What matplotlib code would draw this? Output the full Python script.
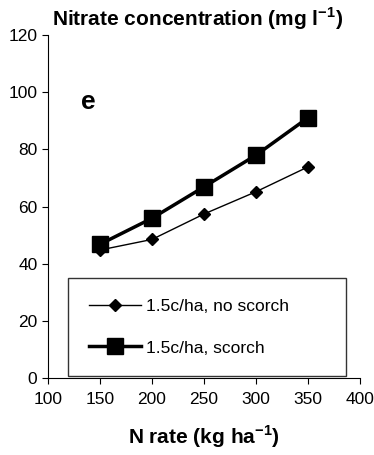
import numpy as np
import matplotlib
matplotlib.use("Agg")
import matplotlib.pyplot as plt

plt.rcParams['font.family'] = ['Liberation Sans', 'DejaVu Sans']
plt.rcParams['mathtext.fontset'] = 'custom'
plt.rcParams['mathtext.rm'] = 'Liberation Sans'
plt.rcParams['mathtext.bf'] = 'Liberation Sans:bold'

n_rate = [150, 200, 250, 300, 350]
no_scorch = [44.8, 48.5, 57.4, 65.2, 73.9]
scorch = [46.8, 55.9, 66.9, 78.0, 91.1]

fig = plt.figure(figsize=(3.74, 4.55), dpi=100)
ax = fig.add_axes([0.128, 0.169, 0.835, 0.754])

ax.plot(n_rate, no_scorch, color='black', lw=1, marker='D', ms=6,
        label='1.5c/ha, no scorch')
ax.plot(n_rate, scorch, color='black', lw=2.5, marker='s', ms=11,
        label='1.5c/ha, scorch')

ax.set_xlim(100, 400)
ax.set_ylim(0, 120)
ax.set_xticks(np.arange(100, 401, 50))
ax.set_yticks(np.arange(0, 121, 20))
ax.spines['top'].set_visible(False)
ax.spines['right'].set_visible(False)
ax.tick_params(labelsize=12.5, length=4, direction='out')
ax.tick_params(axis='x', pad=6)

ax.set_xlabel('N rate (kg ha$^{\\mathbf{-1}}$)', fontsize=15, fontweight='bold', labelpad=12)
fig.text(0.14, 0.988, 'Nitrate concentration (mg l$^{\\mathbf{-1}}$)', fontsize=15,
         fontweight='bold', ha='left', va='top')
ax.text(0.105, 0.785, 'e', transform=ax.transAxes, fontsize=19, fontweight='bold')

leg = ax.legend(loc='lower left', bbox_to_anchor=(0.064, 0.005, 0.89, 0.28),
                mode='expand', fontsize=12.5, frameon=True, fancybox=False,
                handlelength=3.0, borderpad=1.2, labelspacing=1.5,
                handletextpad=0.3, borderaxespad=0)
leg.get_frame().set_edgecolor('black')
leg.get_frame().set_linewidth(1)

fig.savefig('out.png', dpi=100)
